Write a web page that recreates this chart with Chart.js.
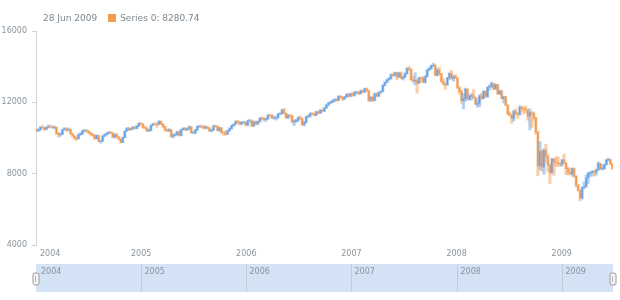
<!DOCTYPE html>
<html>
<head>
<meta charset="utf-8">
<script src="https://cdn.jsdelivr.net/npm/chart.js@4.4.1/dist/chart.umd.min.js"></script>
<style>
    body { margin: 0; background: #fff; }
    #wrap { position: relative; width: 620px; height: 300px; }
    #header { position: absolute; left: 43px; top: 13px; font: 9px 'DejaVu Sans', sans-serif; color: #7c868e; white-space: nowrap; }
    #header .swatch { display: inline-block; width: 8px; height: 8px; background: #f39c4a; margin: 0 4px 0 11px; vertical-align: -1px; }
</style>
</head>
<body>
<div id="wrap">
    <canvas id="chart" width="620" height="300"></canvas>
    <div id="header">28 Jun 2009<span class="swatch"></span>Series 0: 8280.74</div>
</div>
<script>
// Weekly bars, first week ends Fri 2 Jan 2004, one row per year
const firstWeek = '2004-01-02';
const yearTicks = [2004, 2005, 2006, 2007, 2008, 2009];
const yTicks = [4000, 8000, 12000, 16000];

const weekOpen = [
    10450, 10409, 10458, 10600, 10568, 10488, 10593, 10628, 10619, 10583, 10596, 10240, 10186, 10213, 10470, 10516, 10452, 10472, 10225, 10117, 10012, 9966, 10188, 10243, 10410, 10416, 10371, 10282, 10213, 10140, 9962, 10140, 9815, 9825, 10110, 10195, 10260, 10314, 10284, 10047, 10192, 10055, 9933, 9757, 10027, 10387, 10550, 10456, 10522, 10592, 10543, 10661, 10827,
    10783, 10597, 10559, 10393, 10428, 10716, 10796, 10785, 10766, 10941, 10774, 10630, 10442, 10404, 10461, 10088, 10157, 10193, 10345, 10140, 10471, 10542, 10460, 10513, 10623, 10297, 10303, 10449, 10640, 10651, 10641, 10558, 10600, 10559, 10397, 10447, 10678, 10641, 10420, 10569, 10292, 10287, 10215, 10402, 10531, 10686, 10766, 10931, 10877, 10778, 10875, 10883,
    10718, 10959, 10960, 10667, 10907, 10794, 10920, 11115, 11061, 11022, 11076, 11280, 11279, 11109, 11120, 11138, 11347, 11367, 11577, 11381, 11144, 11278, 11247, 10891, 10942, 10989, 11150, 11090, 10739, 10869, 11185, 11240, 11381, 11346, 11284, 11464, 11392, 11560, 11508, 11679, 11851, 11960, 12002, 12090, 12156, 12108, 12342, 12280, 12194, 12307, 12445, 12343,
    12463, 12398, 12556, 12567, 12487, 12653, 12580, 12768, 12647, 12114, 12276, 12110, 12481, 12354, 12560, 12612, 12962, 13121, 13265, 13327, 13557, 13507, 13668, 13424, 13639, 13360, 13409, 13612, 13908, 13851, 13265, 13182, 13240, 13079, 13379, 13358, 13113, 13442, 13820, 13896, 14066, 14093, 13522, 13806, 13595, 13176, 13010, 12980, 13372, 13625, 13339, 13450,
    13365, 12800, 12606, 12099, 12207, 12743, 12182, 12348, 12381, 12266, 11894, 11951, 12361, 12216, 12610, 12325, 12849, 12891, 13058, 12745, 12986, 12480, 12638, 12209, 12307, 11843, 11346, 11288, 11100, 11497, 11370, 11326, 11734, 11659, 11628, 11543, 11220, 11421, 11388, 11143, 10325, 8451, 9265, 8378, 9325, 8943, 8497, 8046, 8829, 8635, 8629, 8579,
    8515, 8776, 8599, 8281, 8077, 8000, 8280, 7850, 7366, 7063, 6627, 7224, 7279, 7776, 8018, 8083, 8131, 8076, 8212, 8575, 8268, 8277, 8500, 8764, 8799, 8539
];
const weekHigh = [
    10500, 10520, 10640, 10700, 10620, 10630, 10740, 10720, 10680, 10680, 10620, 10300, 10280, 10500, 10580, 10560, 10570, 10500, 10280, 10150, 10080, 10230, 10300, 10440, 10480, 10470, 10440, 10330, 10260, 10170, 10180, 10160, 9900, 10140, 10240, 10310, 10360, 10380, 10300, 10240, 10250, 10090, 9960, 10060, 10410, 10580, 10600, 10560, 10650, 10660, 10720, 10860, 10870,
    10800, 10680, 10600, 10500, 10740, 10830, 10850, 10850, 10980, 10960, 10800, 10660, 10520, 10520, 10480, 10220, 10280, 10380, 10400, 10500, 10580, 10600, 10560, 10680, 10640, 10370, 10490, 10680, 10720, 10720, 10700, 10690, 10660, 10600, 10500, 10700, 10730, 10680, 10600, 10590, 10360, 10400, 10440, 10570, 10720, 10800, 10960, 10990, 10930, 10920, 10940, 10900,
    11000, 11050, 11000, 10950, 10960, 10950, 11140, 11180, 11160, 11120, 11300, 11340, 11300, 11240, 11200, 11380, 11420, 11600, 11670, 11400, 11330, 11330, 11260, 11020, 11050, 11190, 11250, 11120, 10950, 11220, 11290, 11420, 11420, 11390, 11500, 11520, 11600, 11620, 11720, 11880, 11990, 12060, 12140, 12200, 12220, 12370, 12380, 12320, 12340, 12480, 12510, 12510,
    12580, 12600, 12630, 12620, 12680, 12710, 12800, 12800, 12690, 12330, 12370, 12520, 12530, 12590, 12660, 12990, 13150, 13290, 13400, 13580, 13630, 13700, 13690, 13690, 13700, 13490, 13660, 13940, 14020, 13900, 13470, 13660, 13300, 13400, 13420, 13440, 13490, 13850, 13960, 14090, 14200, 14100, 13900, 13960, 13620, 13330, 13100, 13400, 13660, 13790, 13520, 13560,
    13370, 12900, 12700, 12500, 12800, 12760, 12420, 12500, 12700, 12290, 12210, 12430, 12530, 12650, 12660, 12880, 12980, 13140, 13060, 13030, 13010, 12700, 12660, 12350, 12340, 11870, 11480, 11330, 11560, 11640, 11440, 11810, 11790, 11720, 11790, 11620, 11640, 11480, 11450, 11150, 10370, 9800, 9340, 9400, 9650, 9080, 8550, 8860, 8830, 8940, 8950, 8610,
    8800, 9090, 8610, 8380, 8290, 8330, 8320, 7900, 7400, 7100, 7260, 7530, 7930, 8080, 8100, 8170, 8180, 8260, 8650, 8580, 8490, 8530, 8800, 8880, 8800, 8560
];
const weekLow = [
    10380, 10360, 10440, 10520, 10420, 10460, 10560, 10570, 10540, 10510, 10200, 10050, 10100, 10190, 10440, 10370, 10400, 10200, 10050, 9900, 9850, 9940, 10150, 10200, 10350, 10320, 10250, 10150, 10090, 9930, 9940, 9790, 9710, 9800, 10080, 10150, 10220, 10240, 10020, 9980, 10020, 9880, 9710, 9740, 10000, 10370, 10430, 10430, 10480, 10490, 10520, 10650, 10750,
    10560, 10500, 10360, 10360, 10400, 10680, 10720, 10600, 10740, 10740, 10580, 10400, 10350, 10380, 10050, 10000, 10100, 10150, 10100, 10120, 10440, 10420, 10410, 10480, 10270, 10240, 10230, 10420, 10580, 10580, 10520, 10510, 10500, 10360, 10350, 10420, 10590, 10390, 10380, 10260, 10150, 10160, 10200, 10380, 10500, 10650, 10740, 10830, 10730, 10750, 10820, 10700,
    10680, 10880, 10640, 10650, 10750, 10740, 10880, 11010, 10950, 10930, 11050, 11200, 11080, 11060, 11010, 11100, 11290, 11340, 11350, 11100, 11080, 11150, 10860, 10700, 10880, 10940, 11030, 10720, 10680, 10840, 11130, 11180, 11290, 11230, 11260, 11360, 11370, 11450, 11480, 11660, 11800, 11920, 11980, 12020, 12060, 12090, 12230, 12100, 12150, 12280, 12300, 12320,
    12340, 12350, 12480, 12420, 12460, 12540, 12540, 12600, 12050, 12040, 12040, 12090, 12300, 12320, 12500, 12590, 12920, 13090, 13200, 13290, 13430, 13480, 13260, 13400, 13330, 13250, 13380, 13570, 13790, 13230, 13120, 12980, 12520, 13060, 13140, 13100, 13080, 13420, 13760, 13850, 13980, 13500, 13480, 13500, 13140, 12980, 12740, 12960, 13280, 13300, 13180, 13320,
    12780, 12450, 11950, 11630, 12050, 12130, 12120, 12120, 12220, 11860, 11730, 11760, 12150, 12200, 12290, 12280, 12700, 12830, 12700, 12740, 12450, 12430, 12180, 11960, 11800, 11320, 11210, 10830, 10960, 11290, 11100, 11290, 11480, 11350, 11400, 11000, 10460, 10600, 10980, 10200, 7880, 8200, 8150, 7960, 8600, 8100, 7450, 8030, 7900, 8400, 8430, 8400,
    8420, 8560, 7950, 7930, 7940, 7860, 7800, 7250, 7020, 6470, 6580, 7150, 7250, 7450, 7830, 7910, 7850, 7920, 8190, 8230, 8200, 8240, 8490, 8690, 8500, 8230
];
const weekClose = [
    10409, 10458, 10600, 10568, 10488, 10593, 10628, 10619, 10583, 10596, 10240, 10186, 10213, 10470, 10516, 10452, 10472, 10225, 10117, 10012, 9966, 10188, 10243, 10410, 10416, 10371, 10282, 10213, 10140, 9962, 10140, 9815, 9825, 10110, 10195, 10260, 10314, 10284, 10047, 10192, 10055, 9933, 9757, 10027, 10387, 10550, 10456, 10522, 10592, 10543, 10661, 10827, 10783,
    10597, 10559, 10393, 10428, 10716, 10796, 10785, 10766, 10941, 10774, 10630, 10442, 10404, 10461, 10088, 10157, 10193, 10345, 10140, 10471, 10542, 10460, 10513, 10623, 10297, 10303, 10449, 10640, 10651, 10641, 10558, 10600, 10559, 10397, 10447, 10678, 10641, 10420, 10569, 10292, 10287, 10215, 10402, 10531, 10686, 10766, 10931, 10877, 10778, 10875, 10883, 10718,
    10959, 10960, 10667, 10907, 10794, 10920, 11115, 11061, 11022, 11076, 11280, 11279, 11109, 11120, 11138, 11347, 11367, 11577, 11381, 11144, 11278, 11247, 10891, 10942, 10989, 11150, 11090, 10739, 10869, 11185, 11240, 11381, 11346, 11284, 11464, 11392, 11560, 11508, 11679, 11851, 11960, 12002, 12090, 12156, 12108, 12342, 12280, 12194, 12307, 12445, 12343, 12463,
    12398, 12556, 12567, 12487, 12653, 12580, 12768, 12647, 12114, 12276, 12110, 12481, 12354, 12560, 12612, 12962, 13121, 13265, 13327, 13557, 13507, 13668, 13424, 13639, 13360, 13409, 13612, 13908, 13851, 13265, 13182, 13240, 13079, 13379, 13358, 13113, 13442, 13820, 13896, 14066, 14093, 13522, 13806, 13595, 13176, 13010, 12980, 13372, 13625, 13339, 13450, 13365,
    12800, 12606, 12099, 12207, 12743, 12182, 12348, 12381, 12266, 11894, 11951, 12361, 12216, 12610, 12325, 12849, 12891, 13058, 12745, 12986, 12480, 12638, 12209, 12307, 11843, 11346, 11288, 11100, 11497, 11370, 11326, 11734, 11659, 11628, 11543, 11220, 11421, 11388, 11143, 10325, 8451, 9265, 8378, 9325, 8943, 8497, 8046, 8829, 8635, 8629, 8579, 8515,
    8776, 8599, 8281, 8077, 8000, 8280, 7850, 7366, 7063, 6627, 7224, 7279, 7776, 8018, 8083, 8131, 8076, 8212, 8575, 8268, 8277, 8500, 8764, 8799, 8539, 8280.74
];

const UP_LIGHT = 'rgba(120,172,232,0.55)';
const DOWN_LIGHT = 'rgba(244,168,100,0.55)';
const UP = '#4a8fdf';
const DOWN = '#f08230';
const TEXT = '#8a949c';
const FONT = "'DejaVu Sans', sans-serif";

// date -> fractional year, so the linear x axis has years as units
function toYearFrac(d) {
    const y = d.getUTCFullYear();
    const start = Date.UTC(y, 0, 1);
    const end = Date.UTC(y + 1, 0, 1);
    return y + (d.getTime() - start) / (end - start);
}

const t0 = new Date(firstWeek + 'T00:00:00Z').getTime();
const weekX = weekClose.map((_, i) => toYearFrac(new Date(t0 + i * 7 * 864e5)));
const xMax = toYearFrac(new Date('2009-06-28T00:00:00Z'));

const rangeData = weekX.map((x, i) => ({ x, y: [weekLow[i], weekHigh[i]] }));
const bodyData = weekX.map((x, i) => ({ x, y: [weekOpen[i], weekClose[i]] }));
const isUp = i => weekClose[i] >= weekOpen[i];

// x labels + scroller strip under the plot
const scrollerPlugin = {
    id: 'scroller',
    afterDraw(chart) {
        const { ctx, chartArea: area, scales: { x } } = chart;
        ctx.save();
        ctx.font = '8px ' + FONT;
        ctx.fillStyle = TEXT;
        ctx.textBaseline = 'middle';

        yearTicks.forEach(yr => {
            const px = x.getPixelForValue(yr);
            const w = ctx.measureText(String(yr)).width;
            const left = Math.max(px - w / 2, area.left + 4);
            ctx.textAlign = 'left';
            ctx.fillText(String(yr), left, area.bottom + 9);
        });

        const top = 264, bottom = 292;
        ctx.fillStyle = '#d3e2f4';
        ctx.fillRect(area.left, top, area.right - area.left, bottom - top);

        ctx.strokeStyle = '#c3ccd6';
        ctx.lineWidth = 1;
        yearTicks.forEach(yr => {
            const px = Math.round(x.getPixelForValue(yr)) + 0.5;
            if (yr > yearTicks[0]) {
                ctx.beginPath();
                ctx.moveTo(px, top);
                ctx.lineTo(px, bottom);
                ctx.stroke();
            }
            ctx.fillStyle = TEXT;
            ctx.textAlign = 'left';
            ctx.fillText(String(yr), Math.max(px + 3, area.left + 5), top + 8);
        });

        // drag handles
        [area.left, area.right].forEach(hx => {
            ctx.beginPath();
            ctx.roundRect(hx - 3, 273, 6, 12, 2);
            ctx.fillStyle = '#f5f5f5';
            ctx.fill();
            ctx.strokeStyle = '#9a9a9a';
            ctx.stroke();
            ctx.beginPath();
            ctx.moveTo(hx - 0.5, 276);
            ctx.lineTo(hx - 0.5, 282);
            ctx.strokeStyle = '#b5b5b5';
            ctx.stroke();
        });
        ctx.restore();
    }
};

new Chart(document.getElementById('chart'), {
    type: 'bar',
    data: {
        datasets: [
            {
                label: 'range',
                data: rangeData,
                barThickness: 2.5,
                backgroundColor: c => isUp(c.dataIndex) ? UP_LIGHT : DOWN_LIGHT,
            },
            {
                label: 'body',
                data: bodyData,
                barThickness: 1,
                backgroundColor: c => isUp(c.dataIndex) ? UP : DOWN,
            },
        ],
    },
    options: {
        responsive: false,
        animation: false,
        grouped: false,
        layout: { padding: { top: 31, right: 7, bottom: 55, left: 0 } },
        plugins: { legend: { display: false }, tooltip: { enabled: false } },
        scales: {
            x: {
                type: 'linear',
                offset: false,
                min: 2004,
                max: xMax,
                display: false,
            },
            y: {
                min: 4000,
                max: 16000,
                afterFit: s => { s.width = 36; },
                afterBuildTicks: s => { s.ticks = yTicks.map(v => ({ value: v })); },
                grid: { drawOnChartArea: false, tickLength: 4, color: '#cfd4d8' },
                border: { color: '#cfd4d8' },
                ticks: { color: TEXT, padding: 5, font: { size: 8, family: FONT }, callback: v => String(v) },
            },
        },
    },
    plugins: [scrollerPlugin],
});
</script>
</body>
</html>
